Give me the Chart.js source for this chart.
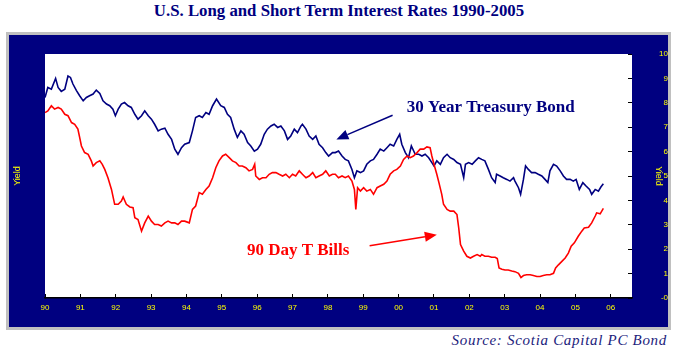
<!DOCTYPE html>
<html lang="en">
<head>
  <meta charset="UTF-8" />
  <title>U.S. Long and Short Term Interest Rates 1990-2005</title>
  <script src="https://cdn.jsdelivr.net/npm/chart.js"></script>
  <style>
    body { margin: 0; width: 678px; height: 352px; background: #fff; position: relative; overflow: hidden; }
    #title { position: absolute; left: 0; top: 1px; width: 678px; text-align: center; line-height: 20px;
             font: bold 16.8px "Liberation Serif", "Times New Roman", serif; color: #000080; }
    #frame { position: absolute; left: 6px; top: 32px; width: 659px; height: 292px;
             border: 3px solid #c0c0c0; background: #000080; }
    #source { position: absolute; right: 11px; top: 332px; line-height: 18px; letter-spacing: 0.7px;
              font: italic 15px "Liberation Serif", "Times New Roman", serif; color: #1c1c7c; }
  </style>
</head>
<body>

  <div id="title">U.S. Long and Short Term Interest Rates 1990-2005</div>

  <!-- navy chart frame -->
  <div id="frame">
    <canvas id="ratesChart"></canvas>
  </div>

  <div id="source">Source: Scotia Capital PC Bond</div>

  <script>
    // 30 year treasury bond (decimal year / yield %)
    const bondYears = [
      1990.00, 1990.08, 1990.18, 1990.30, 1990.37, 1990.46, 1990.56, 1990.65, 1990.72, 1990.79, 1990.89, 1990.98,
      1991.08, 1991.17, 1991.26, 1991.36, 1991.45, 1991.55, 1991.64, 1991.74, 1991.83, 1991.92, 1991.99,
      1992.07, 1992.16, 1992.25, 1992.35, 1992.44, 1992.54, 1992.63, 1992.73, 1992.82, 1992.92,
      1993.01, 1993.10, 1993.20, 1993.29, 1993.39, 1993.48, 1993.58, 1993.67, 1993.76, 1993.86, 1993.95,
      1994.08, 1994.17, 1994.26, 1994.36, 1994.45, 1994.55, 1994.64, 1994.74, 1994.85, 1994.97,
      1995.07, 1995.16, 1995.25, 1995.35, 1995.44, 1995.54, 1995.63, 1995.73, 1995.82, 1995.92,
      1996.01, 1996.10, 1996.20, 1996.29, 1996.39, 1996.48, 1996.58, 1996.67, 1996.77, 1996.86, 1996.95,
      1997.05, 1997.14, 1997.24, 1997.28, 1997.38, 1997.47, 1997.57, 1997.66, 1997.75, 1997.85, 1997.94,
      1998.02, 1998.13, 1998.21, 1998.30, 1998.40, 1998.49, 1998.58, 1998.68, 1998.75, 1998.82, 1998.92,
      1999.01, 1999.10, 1999.20, 1999.29, 1999.39, 1999.48, 1999.58, 1999.67, 1999.76, 1999.86, 1999.95,
      2000.03, 2000.09, 2000.19, 2000.28, 2000.36, 2000.47, 2000.57, 2000.66, 2000.75, 2000.85, 2000.94,
      2001.00, 2001.08, 2001.18, 2001.27, 2001.37, 2001.46, 2001.56, 2001.65, 2001.75, 2001.84, 2001.89, 2001.98,
      2002.08, 2002.17, 2002.26, 2002.35, 2002.44, 2002.54, 2002.63, 2002.73, 2002.77, 2002.87, 2002.96,
      2003.06, 2003.15, 2003.25, 2003.29, 2003.39, 2003.45, 2003.53, 2003.59, 2003.67, 2003.76, 2003.86, 2003.95,
      2004.05, 2004.14, 2004.22, 2004.28, 2004.38, 2004.47, 2004.57, 2004.66, 2004.75, 2004.85, 2004.94,
      2005.02, 2005.11, 2005.21, 2005.30, 2005.40, 2005.46, 2005.56, 2005.65, 2005.72, 2005.79
    ];
    const bondYield = [
      8.22, 8.63, 8.56, 9.00, 8.63, 8.47, 8.56, 9.10, 9.04, 8.77, 8.50, 8.29,
      8.08, 8.22, 8.29, 8.36, 8.52, 8.38, 8.08, 7.95, 7.88, 7.74, 7.47,
      7.74, 7.95, 8.01, 7.88, 7.81, 7.53, 7.33, 7.47, 7.67, 7.47,
      7.33, 7.12, 6.85, 6.92, 6.96, 6.71, 6.50, 6.10, 5.89, 6.16, 6.30,
      6.37, 6.85, 7.40, 7.47, 7.40, 7.60, 7.53, 7.88, 8.15, 7.88,
      7.81, 7.53, 7.40, 6.92, 6.58, 6.85, 6.71, 6.37, 6.23, 6.02,
      6.10, 6.30, 6.71, 6.92, 7.05, 7.12, 6.99, 7.05, 6.85, 6.50, 6.64,
      6.92, 6.78, 7.05, 7.12, 6.92, 6.64, 6.50, 6.64, 6.30, 6.16, 5.96,
      5.82, 5.96, 5.96, 6.02, 5.82, 5.68, 5.62, 5.27, 4.93, 5.21, 5.14,
      5.21, 5.48, 5.62, 5.68, 5.89, 6.10, 6.02, 6.16, 6.30, 6.23, 6.50,
      6.71, 6.30, 5.96, 5.75, 6.23, 5.89, 5.89, 5.82, 5.89, 5.75, 5.55,
      5.41, 5.62, 5.48, 5.75, 5.89, 5.75, 5.68, 5.55, 5.48, 4.93, 5.48, 5.55,
      5.48, 5.62, 5.75, 5.68, 5.62, 5.27, 4.93, 4.73, 5.07, 5.00, 4.93,
      4.86, 4.79, 4.93, 4.79, 4.52, 4.25, 4.86, 5.41, 5.27, 5.14, 5.14, 5.07,
      5.00, 4.86, 4.73, 5.21, 5.48, 5.41, 5.21, 5.00, 4.86, 4.86, 4.79,
      4.86, 4.45, 4.73, 4.59, 4.45, 4.25, 4.45, 4.38, 4.55, 4.68
    ];

    // 90 day T bills
    const billYears = [
      1990.00, 1990.08, 1990.18, 1990.27, 1990.37, 1990.46, 1990.56, 1990.65, 1990.75, 1990.84, 1990.93, 1990.98,
      1991.03, 1991.12, 1991.22, 1991.31, 1991.36, 1991.45, 1991.55, 1991.62, 1991.69, 1991.78, 1991.88, 1991.97,
      1992.07, 1992.16, 1992.21, 1992.30, 1992.40, 1992.49, 1992.54, 1992.63, 1992.73, 1992.82, 1992.92,
      1993.01, 1993.10, 1993.20, 1993.29, 1993.39, 1993.48, 1993.58, 1993.67, 1993.76, 1993.86, 1993.95,
      1994.08, 1994.17, 1994.26, 1994.36, 1994.45, 1994.55, 1994.64, 1994.74, 1994.83, 1994.92,
      1995.02, 1995.11, 1995.21, 1995.30, 1995.40, 1995.49, 1995.58, 1995.68, 1995.77, 1995.87, 1995.93, 1995.96,
      1996.06, 1996.15, 1996.25, 1996.34, 1996.43, 1996.53, 1996.62, 1996.72, 1996.81, 1996.91,
      1997.00, 1997.09, 1997.19, 1997.28, 1997.38, 1997.47, 1997.57, 1997.66, 1997.75, 1997.85, 1997.94,
      1998.04, 1998.13, 1998.21, 1998.30, 1998.40, 1998.49, 1998.58, 1998.68, 1998.75, 1998.79, 1998.84, 1998.92,
      1999.01, 1999.10, 1999.20, 1999.29, 1999.39, 1999.48, 1999.58, 1999.67, 1999.76, 1999.86, 1999.95,
      2000.05, 2000.14, 2000.24, 2000.33, 2000.42, 2000.52, 2000.61, 2000.71, 2000.80, 2000.89, 2000.94,
      2001.00, 2001.08, 2001.14, 2001.22, 2001.27, 2001.37, 2001.46, 2001.56, 2001.65, 2001.70, 2001.75, 2001.84, 2001.93,
      2002.03, 2002.12, 2002.22, 2002.31, 2002.35, 2002.44, 2002.54, 2002.63, 2002.73, 2002.79, 2002.84, 2002.92,
      2003.01, 2003.10, 2003.20, 2003.29, 2003.39, 2003.46, 2003.53, 2003.62, 2003.72, 2003.81, 2003.91,
      2004.00, 2004.09, 2004.19, 2004.28, 2004.38, 2004.44, 2004.52, 2004.61, 2004.71, 2004.80, 2004.88, 2004.97,
      2005.08, 2005.18, 2005.25, 2005.37, 2005.46, 2005.56, 2005.60, 2005.70, 2005.79
    ];
    const billYield = [
      7.60, 7.67, 7.88, 7.74, 7.81, 7.74, 7.53, 7.47, 7.19, 7.12, 6.92, 6.58,
      6.23, 5.96, 5.89, 5.62, 5.41, 5.55, 5.62, 5.48, 5.27, 4.93, 4.45, 3.84,
      3.84, 3.97, 4.14, 3.84, 3.73, 3.70, 3.29, 3.22, 2.74, 3.08, 3.36,
      3.15, 3.01, 3.01, 2.95, 3.08, 3.15, 3.08, 3.08, 3.01, 3.15, 3.15,
      3.08, 3.63, 3.77, 4.32, 4.25, 4.45, 4.59, 4.93, 5.34, 5.62,
      5.82, 5.89, 5.75, 5.62, 5.55, 5.41, 5.41, 5.34, 5.21, 5.27, 5.48, 5.00,
      4.86, 4.93, 4.93, 5.07, 5.14, 5.14, 5.07, 5.00, 5.07, 4.93,
      5.07, 5.00, 5.21, 5.07, 4.93, 5.00, 5.14, 4.93, 5.00, 5.07, 5.21,
      5.00, 5.07, 5.07, 4.93, 5.00, 4.93, 5.00, 4.79, 4.45, 3.63, 4.52, 4.38,
      4.52, 4.38, 4.45, 4.25, 4.52, 4.59, 4.66, 4.79, 5.07, 5.21, 5.27,
      5.41, 5.68, 5.82, 5.75, 5.82, 5.96, 6.10, 6.10, 6.19, 6.16, 5.82,
      5.48, 5.07, 4.73, 4.25, 3.84, 3.63, 3.56, 3.56, 3.42, 2.87, 2.19, 1.92, 1.71,
      1.64, 1.71, 1.78, 1.71, 1.78, 1.71, 1.71, 1.67, 1.67, 1.62, 1.23, 1.18,
      1.15, 1.15, 1.11, 1.08, 1.01, 0.84, 0.92, 0.95, 0.95, 0.92, 0.88,
      0.88, 0.92, 0.95, 0.95, 1.01, 1.23, 1.36, 1.49, 1.64, 1.84, 2.12, 2.26,
      2.53, 2.74, 2.87, 2.90, 3.08, 3.36, 3.49, 3.45, 3.67
    ];

    // callout labels, placed in data units (year, yield)
    const notes = [
      { text: "30 Year Treasury Bond", color: "#000080", at: [2000.23, 7.61], from: [1999.83, 7.49], to: [1998.24, 6.50] },
      { text: "90 Day T Bills", color: "#ff0000", at: [1995.71, 1.77], from: [1999.18, 2.14], to: [2001.08, 2.59] }
    ];

    const tickFont = { family: "'Liberation Sans', Arial, sans-serif", size: 8 };
    const titleFont = { family: "'Liberation Sans', Arial, sans-serif", size: 9 };

    function drawArrow(ctx, x1, y1, x2, y2, color) {
      const a = Math.atan2(y2 - y1, x2 - x1);
      const len = 12, half = 5;
      const bx = x2 - len * Math.cos(a), by = y2 - len * Math.sin(a);
      ctx.strokeStyle = color;
      ctx.fillStyle = color;
      ctx.lineWidth = 1.5;
      ctx.beginPath();
      ctx.moveTo(x1, y1);
      ctx.lineTo(bx, by);
      ctx.stroke();
      ctx.beginPath();
      ctx.moveTo(x2, y2);
      ctx.lineTo(bx + half * Math.sin(a), by - half * Math.cos(a));
      ctx.lineTo(bx - half * Math.sin(a), by + half * Math.cos(a));
      ctx.closePath();
      ctx.fill();
    }

    // white plot area inside the navy frame
    const plotBg = {
      id: "plotBg",
      beforeDraw(chart) {
        const { ctx, chartArea: a } = chart;
        ctx.save();
        ctx.fillStyle = "#ffffff";
        ctx.fillRect(a.left, a.top, a.right - a.left, a.bottom - a.top);
        ctx.restore();
      }
    };

    const callouts = {
      id: "callouts",
      afterDatasetsDraw(chart) {
        const { ctx, scales: { x, y } } = chart;
        ctx.save();
        ctx.font = "bold 17px 'Liberation Serif', 'Times New Roman', serif";
        ctx.textBaseline = "alphabetic";
        notes.forEach(n => {
          ctx.fillStyle = n.color;
          ctx.fillText(n.text, x.getPixelForValue(n.at[0]), y.getPixelForValue(n.at[1]));
          drawArrow(ctx,
            x.getPixelForValue(n.from[0]), y.getPixelForValue(n.from[1]),
            x.getPixelForValue(n.to[0]), y.getPixelForValue(n.to[1]), n.color);
        });
        ctx.restore();
      }
    };

    const toPoints = (xs, ys) => xs.map((x, i) => ({ x, y: ys[i] }));

    new Chart(document.getElementById("ratesChart"), {
      type: "line",
      data: {
        datasets: [
          {
            label: "90 Day T Bills",
            data: toPoints(billYears, billYield),
            borderColor: "#ff0000",
            borderWidth: 1.6,
            pointRadius: 0,
            yAxisID: "y"
          },
          {
            label: "30 Year Treasury Bond",
            data: toPoints(bondYears, bondYield),
            borderColor: "#000080",
            borderWidth: 1.6,
            pointRadius: 0,
            yAxisID: "y"
          }
        ]
      },
      options: {
        responsive: true,
        maintainAspectRatio: false,
        animation: false,
        layout: { padding: { top: 19 } },
        plugins: {
          legend: { display: false },
          tooltip: { enabled: false }
        },
        scales: {
          x: {
            type: "linear",
            min: 1990,
            max: 2006.6,
            afterFit: s => { s.height = 29; },
            ticks: {
              stepSize: 1,
              includeBounds: false,
              autoSkip: false,
              maxRotation: 0,
              padding: 9,
              color: "#ffff00",
              font: tickFont,
              callback: v => String(v % 100).padStart(2, "0")
            },
            grid: { drawOnChartArea: false, tickLength: -4, tickColor: "#000000" },
            border: { color: "#000000", width: 1.5 }
          },
          yl: {
            position: "left",
            afterFit: s => { s.width = 36; },
            ticks: { display: false },
            grid: { display: false },
            border: { display: false },
            title: { display: true, text: "Yield", color: "#ffff00", font: titleFont, padding: { top: 3 } }
          },
          y: {
            position: "right",
            min: 0,
            max: 10,
            afterFit: s => { s.width = 36; },
            ticks: {
              stepSize: 1,
              padding: 13,
              crossAlign: "far",
              color: "#ffff00",
              font: tickFont,
              callback: v => (v === 0 ? "-0" : v)
            },
            grid: { drawOnChartArea: false, tickLength: -4, tickColor: "#000000" },
            border: { display: false },
            title: { display: true, text: "Yield", color: "#ffff00", font: titleFont, padding: { top: 4 } }
          }
        }
      },
      plugins: [plotBg, callouts]
    });
  </script>
</body>
</html>
